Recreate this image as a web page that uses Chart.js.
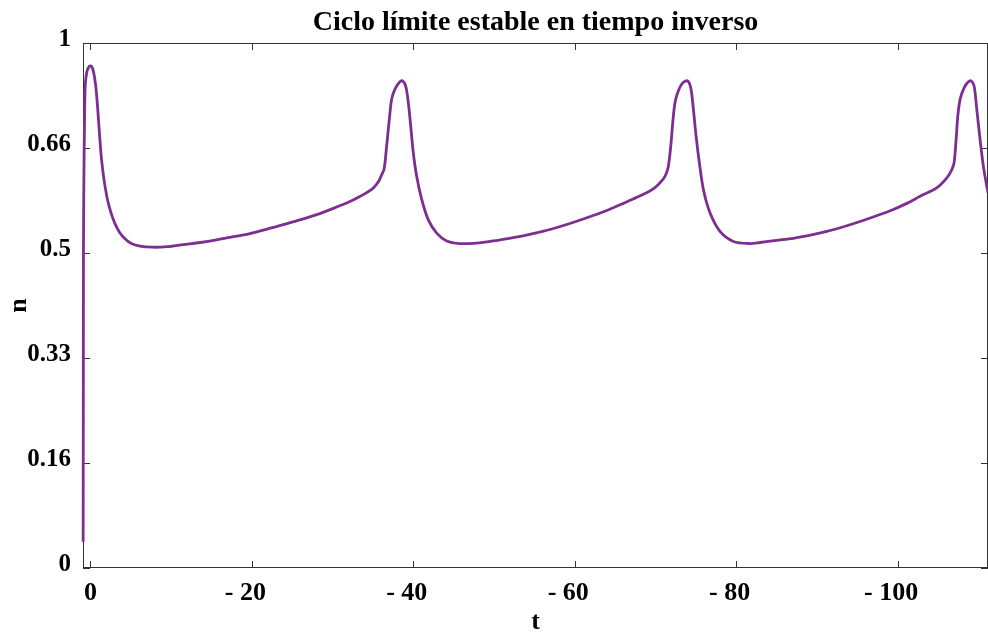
<!DOCTYPE html>
<html><head><meta charset="utf-8">
<script src="https://cdn.jsdelivr.net/npm/chart.js@4.4.1/dist/chart.umd.min.js"></script>
<style>html,body{margin:0;padding:0;background:#fff}#wrap{width:988px;height:638px}</style>
</head><body><div id="wrap"><canvas id="c" width="988" height="638"></canvas></div>
<script>
const titleText = 'Ciclo límite estable en tiempo inverso';
const xTitle = 't';
const yTitle = 'n';
const tValues = [0.90,0.88,0.86,0.81,0.73,0.64,0.43,0.12,-0.12,-0.37,-0.62,-0.81,-1.02,-1.18,-1.34,-1.55,-1.76,-2.11,-2.58,-3.04,-3.62,-4.28,-5.06,-6.13,-7.74,-9.5,-11.5,-13.6,-15.64,-17.7,-19.76,-21.8,-23.89,-25.96,-28.03,-30.1,-32.16,-33.2,-34.23,-35.0,-35.46,-35.8,-36.08,-36.37,-36.55,-36.70,-36.87,-37.03,-37.32,-37.73,-38.27,-38.64,-39.06,-39.38,-39.68,-40.0,-40.42,-41.04,-41.86,-42.9,-44.14,-45.79,-47.86,-49.9,-51.89,-54.0,-56.03,-58.1,-60.15,-62.2,-64.28,-66.1,-67.7,-69.74,-70.98,-71.35,-71.6,-71.9,-72.14,-72.43,-72.84,-73.38,-73.95,-74.37,-74.7,-75.03,-75.44,-75.94,-76.77,-78.0,-79.65,-81.72,-82.96,-85.0,-87.09,-89.2,-91.23,-93.3,-95.35,-97.4,-99.48,-101.2,-102.79,-104.85,-106.1,-106.72,-107.0,-107.25,-107.46,-107.75,-108.25,-108.77,-109.11,-109.48,-109.81,-110.22,-110.63,-111.05,-111.21];
const nValues = [0.05,0.32,0.61,0.74,0.855,0.92,0.946,0.956,0.956,0.946,0.923,0.893,0.849,0.815,0.784,0.755,0.732,0.702,0.675,0.656,0.639,0.627,0.618,0.613,0.611,0.612,0.616,0.62,0.625,0.631,0.637,0.645,0.654,0.663,0.673,0.685,0.698,0.706,0.715,0.723,0.731,0.739,0.749,0.759,0.78,0.804,0.83,0.855,0.893,0.912,0.925,0.928,0.918,0.887,0.842,0.791,0.746,0.702,0.663,0.638,0.623,0.618,0.619,0.623,0.628,0.634,0.641,0.65,0.66,0.671,0.683,0.695,0.706,0.722,0.741,0.752,0.765,0.804,0.848,0.887,0.909,0.924,0.928,0.915,0.874,0.823,0.772,0.721,0.676,0.641,0.622,0.618,0.62,0.624,0.628,0.634,0.641,0.65,0.66,0.671,0.683,0.695,0.708,0.724,0.743,0.759,0.772,0.816,0.861,0.893,0.915,0.926,0.928,0.918,0.874,0.816,0.765,0.727,0.715];
const xTickValues = [0,-20,-40,-60,-80,-100];
const xTickLabels = ['0','- 20','- 40','- 60','- 80','- 100'];
const yTickValues = [0,0.2,0.4,0.6,0.8,1];
const yTickLabels = ['0','0.16','0.33','0.5','0.66','1'];

const points = tValues.map((t,i)=>({x:t,y:nValues[i]}));
const FONT = '"Liberation Serif","Times New Roman",serif';

const framePlugin = {
  id:'frame',
  beforeDatasetsDraw(chart){
    const {ctx, chartArea:a, scales} = chart;
    const x = scales.x, y = scales.y;
    ctx.save();
    ctx.strokeStyle = '#333';
    ctx.lineWidth = 1;
    ctx.strokeRect(a.left+0.5, a.top+0.5, a.right-a.left-1, a.bottom-a.top-1);
    ctx.beginPath();
    const L = 7;
    xTickValues.forEach(v=>{
      const px = Math.round(x.getPixelForValue(v))+0.5;
      ctx.moveTo(px, a.bottom); ctx.lineTo(px, a.bottom-L);
      ctx.moveTo(px, a.top); ctx.lineTo(px, a.top+L);
    });
    yTickValues.forEach(v=>{
      const py = Math.round(y.getPixelForValue(v))+0.5;
      ctx.moveTo(a.left, py); ctx.lineTo(a.left+L, py);
      ctx.moveTo(a.right, py); ctx.lineTo(a.right-L, py);
    });
    ctx.stroke();
    ctx.restore();
  }
};

new Chart(document.getElementById('c'), {
  type:'line',
  data:{datasets:[{data:points,borderColor:'#7D2E91',borderWidth:2.8,pointRadius:0,fill:false,tension:0.3,clip:false}]},
  options:{
    responsive:false, animation:false, devicePixelRatio:1,
    layout:{padding:{top:0,left:0,right:0,bottom:0}},
    plugins:{
      legend:{display:false}, tooltip:{enabled:false},
      title:{display:true,text:titleText,fullSize:false,color:'#000',font:{family:FONT,size:28,weight:'bold'},padding:{top:6,bottom:3.4}}
    },
    scales:{
      x:{type:'linear',reverse:true,min:-111.2,max:0.92,
        afterBuildTicks(s){s.ticks = xTickValues.map(v=>({value:v}));},
        afterFit(s){s.height = 70;},
        grid:{display:false,drawTicks:false}, border:{display:false},
        ticks:{autoSkip:false,maxRotation:0,padding:10,color:'#000',font:{family:FONT,size:26,weight:'bold'},
          callback:(v)=>{const s = xTickLabels[xTickValues.indexOf(v)]; return v===0 ? s : s + '  ';}},
        title:{display:true,text:xTitle,color:'#000',font:{family:FONT,size:26,weight:'bold'},padding:{top:0,bottom:0}}
      },
      y:{type:'linear',min:0,max:1,
        afterBuildTicks(s){s.ticks = yTickValues.map(v=>({value:v}));},
        afterFit(s){s.width = 83;},
        grid:{display:false,drawTicks:false}, border:{display:false},
        ticks:{autoSkip:false,padding:12,labelOffset:-3,color:'#000',font:{family:FONT,size:25,weight:'bold'},
          callback:(v)=>yTickLabels[yTickValues.indexOf(v)]},
        title:{display:true,text:yTitle,color:'#000',font:{family:FONT,size:26,weight:'bold'},padding:{top:4,bottom:0}}
      }
    }
  },
  plugins:[framePlugin]
});
</script></body></html>
